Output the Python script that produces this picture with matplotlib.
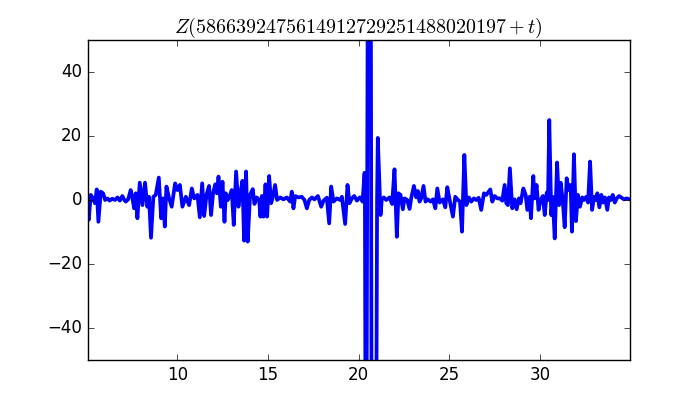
import matplotlib
matplotlib.use("Agg")
import matplotlib.pyplot as plt
import numpy as np

# values, segment by segment (t, Z)
t_a = [5.06, 5.12, 5.23, 5.35, 5.46, 5.56, 5.65, 5.78, 5.91, 6.02, 6.15, 6.27,
       6.42, 6.57, 6.70, 6.83, 6.97, 7.08, 7.16, 7.29, 7.43, 7.52, 7.62, 7.71,
       7.80, 7.93, 8.08, 8.22, 8.35, 8.44, 8.55, 8.68, 8.81, 8.98, 9.11, 9.22,
       9.31, 9.40, 9.55, 9.69, 9.88, 10.01, 10.14, 10.28, 10.47, 10.65, 10.80,
       10.93, 11.11, 11.24, 11.37, 11.48, 11.61, 11.75, 11.86, 11.97, 12.09,
       12.18, 12.27, 12.40, 12.49, 12.60]
z_a = [-5.0, -6.2, 1.6, 0.5, -1.0, 3.3, -6.8, 2.6, 2.1, 0.0, 0.5, -0.2,
       0.4, 0.0, 0.8, -0.2, 1.25, 0.0, -0.5, 0.2, 3.1, 0.8, -2.6, 2.1,
       -5.7, 5.4, -1.6, 5.4, -2.1, 1.0, -11.8, 1.0, 1.6, 7.0, -5.7, 0.5,
       -8.3, 4.2, 0.5, -2.1, 5.2, 3.1, 4.7, -2.1, 1.0, -1.6, 3.6,
       0.5, 1.6, -5.4, 5.2, -5.0, 1.6, 4.4, -4.7, 2.1, 4.9,
       2.1, 7.3, -2.1, 5.7, -6.8]

t_b = [12.67, 12.78, 12.91, 13.00, 13.11, 13.24, 13.37, 13.46, 13.59, 13.68,
       13.79, 13.88, 14.01, 14.16, 14.25, 14.38, 14.51, 14.58, 14.66, 14.75,
       14.86, 14.95, 15.06, 15.17, 15.26, 15.39, 15.50, 15.67, 15.85, 16.04,
       16.22, 16.31, 16.40, 16.50, 16.68, 16.86, 17.01, 17.14, 17.27, 17.42,
       17.56, 17.75, 17.93, 18.06, 18.24, 18.37, 18.48, 18.61, 18.79, 18.98,
       19.07, 19.25, 19.38, 19.49, 19.62, 19.75, 19.90, 20.05, 20.10, 20.21]
z_b = [2.1, 0.0, 1.6, 3.1, -7.8, 8.9, -2.1, 1.6, 6.0, -12.7,
       8.9, -13.0, 1.6, 3.4, -1.25, 0.8, 0.0, -5.2, 1.25, -5.2,
       4.9, -5.2, 7.5, -1.0, 0.8, 4.7, 0.0, 0.8, 0.2, 0.8,
       -0.5, 2.6, -2.6, 1.25, 0.8, 1.0, 0.0, -2.6, 0.0, 0.8,
       0.2, 1.25, -2.1, -0.2, 0.7, -7.3, 4.2, -0.5, 0.5, 0.0,
       1.0, -7.5, 4.7, -1.0, 0.5, 1.25, -0.2, 0.8, 0.8, -0.5]

# the large burst near t = 20.6 (goes far off the visible range)
t_c = [20.32, 20.34, 20.36, 20.40, 20.44, 20.49, 20.58, 20.67, 20.70, 20.83,
       20.98, 21.01, 21.05]
z_c = [8.5, 3.0, -50.0, -120.0, -50.0, 50.0, 400.0, 50.0, -50.0, -200.0,
       -50.0, 0.0, 19.4]

t_d = [21.20, 21.27, 21.38, 21.51, 21.70, 21.84, 21.97, 22.10, 22.19, 22.30,
       22.43, 22.52, 22.67, 22.80, 22.89, 23.04, 23.17, 23.26, 23.35, 23.44,
       23.57, 23.68, 23.81, 23.96, 24.09, 24.22, 24.33, 24.46, 24.64, 24.77,
       24.88, 25.01, 25.19, 25.32, 25.47, 25.58, 25.69, 25.82, 25.93, 26.07,
       26.20, 26.35, 26.48, 26.61, 26.75, 26.90, 27.03, 27.16, 27.25, 27.36,
       27.49, 27.64]
z_d = [-4.7, 0.2, 0.8, 0.0, 0.8, -1.25, 9.6, -11.5, 2.1, 1.6,
       -2.9, 0.5, 0.0, -2.8, 0.5, 4.4, 0.8, 2.8, -0.5, 0.5,
       4.4, -0.5, 0.2, -0.5, 0.2, -2.6, 3.6, -0.8, 0.2, -2.3,
       4.0, 0.0, -5.2, 1.0, 0.0, -0.5, -9.9, 14.1, -1.6, 0.8,
       -0.5, 0.5, 0.0, 0.7, -3.1, 2.1, 1.6, 2.6, 3.3, -0.5,
       1.25, 0.5]

t_e = [27.78, 27.91, 28.04, 28.13, 28.22, 28.33, 28.46, 28.59, 28.70, 28.83,
       28.92, 29.07, 29.20, 29.29, 29.42, 29.49, 29.62, 29.69, 29.80, 29.91,
       30.02, 30.15, 30.25, 30.36, 30.43, 30.50, 30.61, 30.69, 30.80, 30.93,
       31.04, 31.13, 31.24, 31.35, 31.46, 31.57, 31.68, 31.75, 31.86, 31.97,
       32.08, 32.19, 32.32, 32.42, 32.54, 32.64, 32.75, 32.86, 32.97, 33.06,
       33.15, 33.26, 33.37, 33.46, 33.57, 33.70, 33.79, 33.89, 34.00, 34.11,
       34.22, 34.35, 34.47, 34.62, 34.77, 34.95]
z_e = [0.5, -0.2, 4.7, -1.0, -1.6, 9.9, -2.6, 0.2, -2.9, 0.5,
       -1.0, 3.6, 1.6, -3.1, 1.0, -5.7, 7.5, 0.5, 4.7, -3.1,
       0.0, 1.25, -4.7, 2.3, 0.0, 25.0, -4.7, 1.0, -12.0, 11.7,
       -1.6, 5.4, 0.0, -8.5, 6.8, 3.1, 4.7, -9.9, 14.3, -6.6,
       1.6, -2.1, 0.8, 0.0, 1.0, -0.8, 12.0, -3.1, 1.0, 0.0,
       2.1, -2.3, 1.6, -0.8, 0.8, -3.1, 0.8, 0.0, 1.6, -0.8,
       0.5, 1.25, 0.8, 0.2, 0.5, 0.2]

t = np.array(t_a + t_b + t_c + t_d + t_e)
z = np.array(z_a + z_b + z_c + z_d + z_e)

plt.style.use('classic')
fig = plt.figure(figsize=(7, 4), dpi=100, facecolor='white')
ax = fig.add_subplot(111)
ax.plot(t, z, color='b', lw=2.7)
ax.set_xlim(5.05, 34.95)
ax.set_ylim(-50, 50)
ax.set_xticks([10, 15, 20, 25, 30])
ax.set_yticks([-40, -20, 0, 20, 40])
ax.set_title(r'$Z(5866392475614912729251488020197+t)$')
fig.savefig('out.png', dpi=100, facecolor='white')
